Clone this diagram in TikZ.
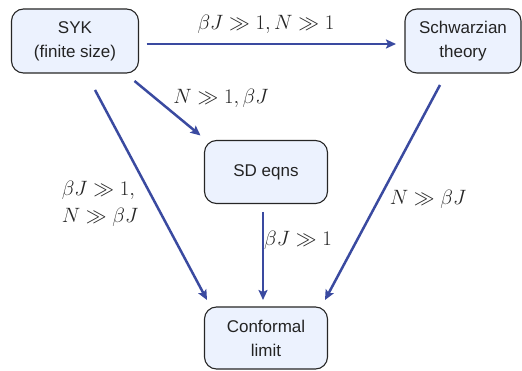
\documentclass[tikz,border=0pt]{standalone}
\usepackage{fontspec}
\setsansfont{Liberation Sans}
\usetikzlibrary{arrows.meta}
\definecolor{arrowblue}{RGB}{58,74,160}
\definecolor{boxfill}{RGB}{236,242,254}
\definecolor{boxtext}{RGB}{35,35,35}
\tikzset{
  box/.style={draw=black!85, line width=1.1pt, fill=boxfill, rounded corners=12pt,
    font=\sffamily\fontsize{17}{24}\selectfont, text=boxtext, align=center,
    inner sep=0pt, outer sep=0pt},
  conn/.style={draw=arrowblue, line width=2.5pt, -{Stealth[length=10pt,width=9pt,inset=2pt]}},
  lab/.style={font=\fontsize{19.4}{26.5}\selectfont, inner sep=0pt, text=black!85}
}
\begin{document}
\begin{tikzpicture}[x=1pt,y=-1pt]
\useasboundingbox (0,0) rectangle (522,371);
\node[box, minimum width=127pt, minimum height=64pt] (syk) at (75,41) {SYK\\(finite size)};
\node[box, minimum width=116pt, minimum height=64pt] (schw) at (463,41) {Schwarzian\\theory};
\node[box, minimum width=123pt, minimum height=63pt] (sd) at (266,172) {SD eqns};
\node[box, minimum width=123pt, minimum height=62pt] (conf) at (266,338) {Conformal\\limit};

\draw[conn] ([shift={(8,3)}]syk.east) -- ([shift={(-9,3)}]schw.west);
\draw[conn] ([shift={(-4,8)}]syk.south east) -- ([shift={(-4,-5)}]sd.north west);
\draw[conn] ([shift={(20,17)}]syk.south) -- ([shift={(2.5,-7)}]conf.north west);
\draw[conn] ([shift={(-3,8.5)}]sd.south) -- ([shift={(-3,-7)}]conf.north);
\draw[conn] ([shift={(-23,12)}]schw.south) -- ([shift={(-2.5,-7)}]conf.north east);

\node[lab] (l1) at (266,24) {$\beta J \gg 1, N \gg 1$};
\node[lab] (l2) at (221,98) {$N \gg 1, \beta J$};
\node[lab, align=left] (l3) at (100,204) {$\beta J \gg 1,$\\$N \gg \beta J$};
\node[lab] (l4) at (298,240) {$\beta J \gg 1$};
\node[lab] (l5) at (428,199) {$N \gg \beta J$};
\end{tikzpicture}
\end{document}
